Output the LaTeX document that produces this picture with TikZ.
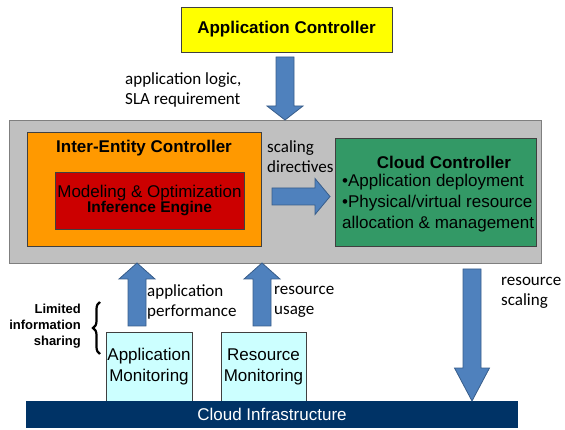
\documentclass[tikz,border=0pt]{standalone}
\usepackage{fontspec}
\setmainfont{Liberation Sans}
\newfontfamily\calfont{Carlito}
\usetikzlibrary{calc,decorations.pathreplacing}
\definecolor{cyel}{HTML}{FFFF00}
\definecolor{corange}{HTML}{FF9900}
\definecolor{cred}{HTML}{CC0000}
\definecolor{cgreen}{HTML}{339966}
\definecolor{cgray}{HTML}{C0C0C0}
\definecolor{cgrayb}{HTML}{7F7F7F}
\definecolor{ccyan}{HTML}{CCFFFF}
\definecolor{cnavy}{HTML}{003366}
\definecolor{carrow}{HTML}{4F81BD}
\definecolor{carrowb}{HTML}{385D8A}
\definecolor{cborder}{HTML}{404040}
\tikzset{
  box/.style={draw=cborder, line width=0.8pt, inner sep=0pt, outer sep=0pt, align=center},
  blk/.style={fill=carrow, draw=carrowb, line width=0.8pt, line join=miter},
  lbl/.style={font=\calfont\fontsize{17}{20}\selectfont, align=left, inner sep=0pt, anchor=west},
  big/.style={font=\fontsize{17}{21}\selectfont},
  bigb/.style={font=\bfseries\fontsize{17}{20}\selectfont},
}
\newcommand\blockarrow[5]{%
  \coordinate (hb) at ($(#2)!#5!(#1)$);
  \draw[blk] ($(#1)!#3!90:(#2)$) -- ($(hb)!#3!90:(#2)$) -- ($(hb)!#4!90:(#2)$) -- (#2)
     -- ($(hb)!#4!-90:(#2)$) -- ($(hb)!#3!-90:(#2)$) -- ($(#1)!#3!-90:(#2)$) -- cycle;
}
\begin{document}
\begin{tikzpicture}[x=1pt,y=-1pt]
\useasboundingbox (0,0) rectangle (565,430);
% boxes
\node[box, fill=cyel, minimum width=211pt, minimum height=45pt, bigb] (appc) at (286.5,29.5) {Application Controller};
\node[box, draw=cgrayb, fill=cgray, minimum width=532pt, minimum height=143pt] (gray) at (275,191.5) {};
\node[box, fill=corange, minimum width=234pt, minimum height=114pt] (orange) at (144,189) {};
\node[bigb, inner sep=0pt] (iect) at (144,148) {Inter-Entity Controller};
\node[box, fill=cred, minimum width=189pt, minimum height=57pt] (red) at (149.5,200.5)
  {\fontsize{17}{22}\selectfont Modeling \& Optimization\\\bfseries\fontsize{15.5}{22}\selectfont Inference Engine};
\node[box, fill=cgreen, minimum width=201pt, minimum height=108pt] (green) at (435.5,192) {};
\node[bigb, inner sep=0pt] (cct) at (444,162) {Cloud Controller};
\node[big, align=left, anchor=west, inner sep=0pt] (ccb) at (342,203)
  {•Application deployment\\•Physical/virtual resource\\allocation \& management};
\node[box, fill=ccyan, minimum width=86pt, minimum height=69pt, big] (appmon) at (149,366.5) {Application\\Monitoring};
\node[box, fill=ccyan, minimum width=85pt, minimum height=69pt, big] (resmon) at (263.5,366.5) {Resource\\Monitoring};
\node[fill=cnavy, minimum width=492pt, minimum height=27pt, inner sep=0pt, outer sep=0pt, text=white, big] (cloud) at (272,414.5) {Cloud Infrastructure};
% labels
\node[lbl] (t1) at (125,89.5) {application logic,\\SLA requirement};
\node[lbl] (t2) at (267,157) {scaling\\directives};
\node[lbl] (t3) at (147,302) {application\\performance};
\node[lbl] (t4) at (274,302) {resource\\usage};
\node[lbl] (t5) at (501,293) {resource\\scaling};
\node[font=\bfseries\fontsize{13}{16}\selectfont, align=right, anchor=east, inner sep=0pt] (t6) at (81,326) {Limited\\information\\sharing};
% brace
\coordinate (brT) at (100,302);
\coordinate (brB) at (100,354);
\draw[decorate, decoration={brace, amplitude=7pt}, line width=2.2pt] (brB) -- (brT);
% block arrows
\coordinate (a1s) at (285,57); \coordinate (a1e) at (a1s |- gray.north);
\blockarrow{a1s}{a1e}{9pt}{18pt}{14pt}
\coordinate (a2s) at (272,196.5); \coordinate (a2e) at (330,196.5);
\blockarrow{a2s}{a2e}{8.5pt}{18pt}{15pt}
\coordinate (a3s) at (137,326); \coordinate (a3e) at (a3s |- gray.south);
\blockarrow{a3s}{a3e}{9pt}{18pt}{16pt}
\coordinate (a4s) at (262,326); \coordinate (a4e) at (a4s |- gray.south);
\blockarrow{a4s}{a4e}{9pt}{18pt}{16pt}
\coordinate (a5s) at (472,269); \coordinate (a5e) at (a5s |- cloud.north);
\blockarrow{a5s}{a5e}{9pt}{17.5pt}{33pt}
\end{tikzpicture}
\end{document}
